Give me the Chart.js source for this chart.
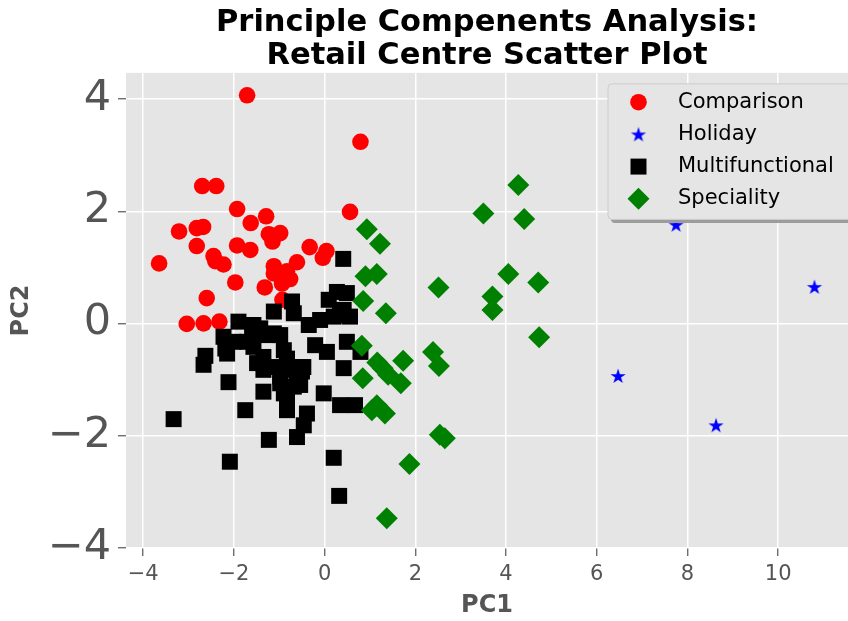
<!DOCTYPE html>
<html>
<head>
<meta charset="utf-8">
<title>Retail Centre Scatter Plot</title>
<script src="https://cdn.jsdelivr.net/npm/chart.js@4.4.1/dist/chart.umd.min.js"></script>
<style>
  html, body { margin: 0; padding: 0; background: #fff; }
</style>
</head>
<body>
<canvas id="pca-scatter" width="848" height="621"></canvas>
<script>
// PC1 / PC2 scores for each retail centre group
const seriesNames = ['Comparison', 'Holiday', 'Multifunctional', 'Speciality'];

const comparisonPC1 = [-1.71, 0.79, -2.70, -2.39, -1.93, -1.29, -1.63, 0.56, -3.21, -2.82, -2.68, -1.23, -0.98,
  -1.15, -2.82, -1.93, -1.64, -0.33, 0.04, -0.04, -3.65, -2.45, -2.23, -2.41, -1.12, -0.61, -0.83, -1.97,
  -1.32, -1.12, -0.90, -0.76, -0.94, -2.60, -0.93, -3.04, -2.67, -2.32];
const comparisonPC2 = [4.07, 3.24, 2.45, 2.45, 2.04, 1.91, 1.79, 1.99, 1.64, 1.70, 1.72, 1.59, 1.61,
  1.46, 1.38, 1.39, 1.31, 1.36, 1.29, 1.17, 1.07, 1.20, 1.05, 1.11, 1.02, 1.09, 0.93, 0.73,
  0.64, 0.89, 0.86, 0.79, 0.71, 0.45, 0.42, -0.01, 0.00, 0.03];

const holidayPC1 = [7.75, 10.80, 6.47, 8.63];
const holidayPC2 = [1.76, 0.65, -0.94, -1.82];

const multiPC1 = [0.41, 0.27, 0.49, 0.09, -0.72, -1.12, -0.68, -0.35, -0.10, 0.20, 0.56, 0.42, -1.90, -1.57,
  -1.42, -1.12, -0.98, -2.23, -2.01, -2.15, -2.63, -2.67, -0.21, 0.05, 0.49, 0.79, -1.57, -1.35, -1.35,
  -0.90, -0.83, -0.54, -0.61, -0.98, -0.68, -0.90, 0.42, -2.12, -1.35, -0.02, 0.34, 0.67, -1.75, -0.83,
  -0.39, -0.46, -0.61, -3.33, -1.23, -2.09, 0.20, 0.32, 0.34, -0.47, -1.60, -1.27, -1.71, -1.49, -1.05,
  -0.98, -0.76, -0.50, -0.54, -0.83, -2.19];
const multiPC2 = [1.15, 0.56, 0.54, 0.42, 0.39, 0.21, 0.18, -0.03, 0.06, 0.12, 0.12, 0.24, 0.03, -0.03,
  -0.09, -0.18, -0.21, -0.24, -0.33, -0.54, -0.58, -0.74, -0.39, -0.51, -0.33, -0.51, -0.42, -0.60, -0.83,
  -0.48, -0.63, -0.78, -0.95, -0.95, -1.13, -1.25, -0.80, -1.05, -1.22, -1.25, -1.46, -1.46, -1.55, -1.55,
  -1.61, -1.82, -2.03, -1.71, -2.08, -2.47, -2.40, -3.08, 0.15, -0.78, -0.15, -0.21, -0.33, -0.71, -0.78,
  -1.07, -0.83, -0.86, -1.10, -1.31, -0.45];

const specialityPC1 = [4.27, 3.50, 4.40, 0.93, 1.22, 0.90, 1.15, 2.51, 4.05, 4.71, 3.70, 3.70, 0.85, 1.35,
  4.73, 0.82, 1.16, 1.40, 1.68, 1.73, 2.39, 2.52, 0.84, 1.04, 1.15, 1.33, 2.65, 2.54, 1.87, 1.37, 1.28];
const specialityPC2 = [2.47, 1.96, 1.86, 1.68, 1.42, 0.84, 0.88, 0.64, 0.88, 0.73, 0.48, 0.24, 0.40, 0.18,
  -0.25, -0.40, -0.70, -0.92, -1.07, -0.67, -0.51, -0.76, -0.98, -1.55, -1.46, -1.61, -2.05, -1.99, -2.51,
  -3.48, -0.80];

const xTickValues = [-4, -2, 0, 2, 4, 6, 8, 10];
const yTickValues = [-4, -2, 0, 2, 4];

const FONT = "'DejaVu Sans', sans-serif";

function toPoints(xs, ys) {
  return xs.map((x, i) => ({ x: x, y: ys[i] }));
}

// filled five-point star used as a point style
function makeStar(outer, color) {
  const size = Math.ceil(outer * 2 + 2);
  const c = document.createElement('canvas');
  c.width = size;
  c.height = size;
  const g = c.getContext('2d');
  const inner = outer * 0.382;
  g.beginPath();
  for (let i = 0; i < 10; i++) {
    const r = i % 2 ? inner : outer;
    const a = -Math.PI / 2 + i * Math.PI / 5;
    g.lineTo(size / 2 + r * Math.cos(a), size / 2 + r * Math.sin(a) + 0.6);
  }
  g.closePath();
  g.fillStyle = color;
  g.fill();
  return c;
}
const blueStar = makeStar(8, '#0000ff');

function minusLabel(v) {
  return v < 0 ? '\u2212' + Math.abs(v) : String(v);
}

// grey panel behind the plot
const panelBackground = {
  id: 'panelBackground',
  beforeDraw(chart) {
    const { ctx, chartArea: a } = chart;
    ctx.save();
    ctx.fillStyle = '#e5e5e5';
    ctx.fillRect(a.left, a.top, a.right - a.left, a.bottom - a.top);
    ctx.restore();
  }
};

function roundRect(ctx, x, y, w, h, r) {
  ctx.beginPath();
  ctx.moveTo(x + r, y);
  ctx.lineTo(x + w - r, y);
  ctx.quadraticCurveTo(x + w, y, x + w, y + r);
  ctx.lineTo(x + w, y + h - r);
  ctx.quadraticCurveTo(x + w, y + h, x + w - r, y + h);
  ctx.lineTo(x + r, y + h);
  ctx.quadraticCurveTo(x, y + h, x, y + h - r);
  ctx.lineTo(x, y + r);
  ctx.quadraticCurveTo(x, y, x + r, y);
  ctx.closePath();
}

// legend box with drop shadow in the top right corner of the panel
const shadowLegend = {
  id: 'shadowLegend',
  afterDatasetsDraw(chart) {
    const { ctx, chartArea: a } = chart;
    const x = a.right - 240, y = a.top + 11, w = 262, h = 135.5;
    ctx.save();
    roundRect(ctx, x + 3, y + 3.5, w, h, 4);
    ctx.fillStyle = '#9c9c9c';
    ctx.fill();
    roundRect(ctx, x, y, w, h, 4);
    ctx.fillStyle = '#e5e5e5';
    ctx.fill();
    ctx.strokeStyle = '#cccccc';
    ctx.lineWidth = 1;
    ctx.stroke();

    ctx.font = '21px ' + FONT;
    ctx.textBaseline = 'middle';
    ctx.textAlign = 'left';
    chart.data.datasets.forEach((ds, i) => {
      const rowY = y + 18.3 + i * 32.2;
      ctx.fillStyle = ds.backgroundColor;
      Chart.helpers.drawPoint(ctx, {
        pointStyle: ds.pointStyle,
        radius: ds.pointRadius,
        rotation: 0,
        borderWidth: 0
      }, x + 30.5, rowY);
      ctx.fillStyle = '#000';
      ctx.fillText(ds.label, x + 70, rowY);
    });
    ctx.restore();
  }
};

new Chart(document.getElementById('pca-scatter'), {
  type: 'scatter',
  data: {
    datasets: [{
      label: seriesNames[0],
      data: toPoints(comparisonPC1, comparisonPC2),
      backgroundColor: '#ff0000',
      pointStyle: 'circle',
      pointRadius: 8.3,
      borderWidth: 0,
      order: 3
    }, {
      label: seriesNames[1],
      data: toPoints(holidayPC1, holidayPC2),
      backgroundColor: '#0000ff',
      pointStyle: blueStar,
      pointRadius: 8,
      borderWidth: 0,
      order: 2
    }, {
      label: seriesNames[2],
      data: toPoints(multiPC1, multiPC2),
      backgroundColor: '#000000',
      pointStyle: 'rect',
      pointRadius: 11.3,
      borderWidth: 0,
      order: 1
    }, {
      label: seriesNames[3],
      data: toPoints(specialityPC1, specialityPC2),
      backgroundColor: '#008000',
      pointStyle: 'rectRot',
      pointRadius: 11,
      borderWidth: 0,
      order: 0
    }]
  },
  options: {
    responsive: false,
    animation: false,
    events: [],
    layout: { padding: 0, autoPadding: false },
    plugins: {
      legend: { display: false },
      tooltip: { enabled: false },
      title: {
        display: true,
        fullSize: false,
        text: ['Principle Compenents Analysis:', 'Retail Centre Scatter Plot'],
        color: '#000',
        font: { family: FONT, size: 30.5, weight: 'bold', lineHeight: 1.08 },
        padding: { top: 6.5, bottom: 0.5 }
      }
    },
    scales: {
      x: {
        type: 'linear',
        min: -4.38,
        max: 11.54,
        afterFit(scale) {
          scale.height = 73;
          scale.paddingLeft = 0;
          scale.paddingRight = 0;
        },
        afterBuildTicks(scale) { scale.ticks = xTickValues.map(v => ({ value: v })); },
        grid: { color: '#ffffff', lineWidth: 1.5, tickColor: '#555555', tickWidth: 1.2, tickLength: 8 },
        border: { display: false },
        ticks: { color: '#555555', font: { family: FONT, size: 21 }, padding: 6, callback: minusLabel },
        title: {
          display: true, text: 'PC1', color: '#555555',
          font: { family: FONT, size: 24, weight: 'bold' }, padding: { top: 0, bottom: 1 }
        }
      },
      y: {
        type: 'linear',
        min: -4.01,
        max: 4.47,
        afterFit(scale) {
          scale.width = 126;
          scale.paddingTop = 0;
          scale.paddingBottom = 0;
        },
        afterBuildTicks(scale) { scale.ticks = yTickValues.map(v => ({ value: v })); },
        grid: { color: '#ffffff', lineWidth: 1.5, tickColor: '#555555', tickWidth: 1.2, tickLength: 8 },
        border: { display: false },
        ticks: { color: '#555555', font: { family: FONT, size: 43 }, padding: 7, callback: minusLabel },
        title: {
          display: true, text: 'PC2', color: '#555555',
          font: { family: FONT, size: 24, weight: 'bold' }, padding: { top: 7.6, bottom: 0 }
        }
      }
    }
  },
  plugins: [panelBackground, shadowLegend]
});
</script>
</body>
</html>
